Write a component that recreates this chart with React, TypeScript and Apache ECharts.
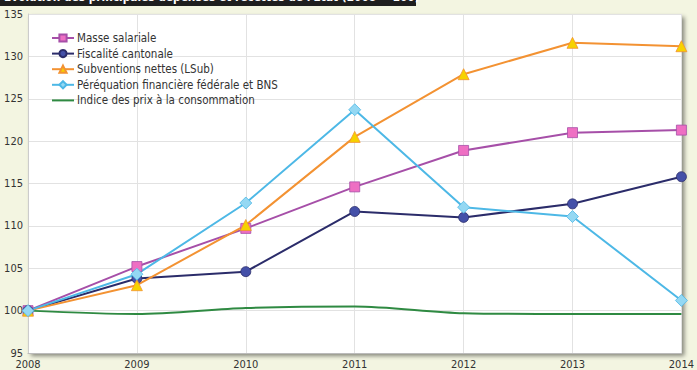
import React, { useEffect, useRef } from "react";
import * as echarts from "echarts";

const years = ["2008", "2009", "2010", "2011", "2012", "2013", "2014"];
const masseSalariale = [100, 105.2, 109.7, 114.6, 118.9, 121.0, 121.3];
const fiscaliteCantonale = [100, 103.8, 104.6, 111.7, 111.0, 112.6, 115.8];
const subventionsNettes = [100, 103.0, 110.1, 120.5, 127.9, 131.6, 131.2];
const perequation = [100, 104.3, 112.7, 123.7, 112.2, 111.1, 101.2];
const indicePrix = [100, 99.6, 100.3, 100.5, 99.7, 99.6, 99.6];

const FONT = "'Liberation Sans Narrow', 'DejaVu Sans Condensed', 'Arial Narrow', sans-serif";

export default function App() {
  const ref = useRef<HTMLDivElement>(null);
  useEffect(() => {
    if (!ref.current) return;
    const chart = echarts.init(ref.current, null, { renderer: "svg" });
    const mk = (name: string, data: number[], line: string, marker: string, symbol: string, size: number) => ({
      name,
      type: "line",
      data,
      symbol,
      symbolSize: size,
      lineStyle: { color: line, width: 2 },
      itemStyle: { color: marker, borderColor: line, borderWidth: 0.8 },
      z: 3,
    });
    chart.setOption({
      animation: false,
      backgroundColor: "#f3f5e1",
      graphic: [
        { type: "rect", left: 0, top: 0, shape: { width: 416, height: 6 }, style: { fill: "#1e1e1e" } },
        {
          type: "text",
          left: 4,
          top: -9,
          style: {
            text: "Evolution des principales dépenses et recettes de l'Etat (2008 = 100)",
            fill: "#ffffff",
            font: "bold 11.8px " + FONT,
          },
        },
      ],
      grid: {
        left: 28,
        right: 5,
        top: 14,
        bottom: 17,
        show: true,
        backgroundColor: "#ffffff",
        borderWidth: 0,
        shadowColor: "rgba(0,0,0,0.45)",
        shadowBlur: 4,
        shadowOffsetX: 3,
        shadowOffsetY: 3,
      },
      legend: {
        left: 51,
        top: 32,
        padding: 0,
        orient: "vertical",
        itemWidth: 22,
        itemHeight: 9,
        itemGap: 3.6,
        textStyle: { fontFamily: FONT, fontSize: 11.5, color: "#333", padding: [0, 0, 0, -2] },
        data: [
          "Masse salariale",
          "Fiscalité cantonale",
          "Subventions nettes (LSub)",
          "Péréquation financière fédérale et BNS",
          "Indice des prix à la consommation",
        ],
      },
      xAxis: {
        type: "category",
        data: years,
        boundaryGap: false,
        axisLine: { lineStyle: { color: "#bbb", width: 1 } },
        axisTick: { show: false },
        axisLabel: { fontFamily: FONT, fontSize: 11, color: "#333", margin: 6, showMaxLabel: true },
        splitLine: { show: true, lineStyle: { color: "#e2e2e2", width: 1 } },
      },
      yAxis: {
        type: "value",
        min: 95,
        max: 135,
        interval: 5,
        axisLine: { show: true, lineStyle: { color: "#ccc", width: 1 } },
        axisTick: { show: false },
        axisLabel: { fontFamily: FONT, fontSize: 11, color: "#333", margin: 5 },
        splitLine: { show: true, lineStyle: { color: "#e2e2e2", width: 1 } },
      },
      series: [
        mk("Masse salariale", masseSalariale, "#a64fa8", "#ee6fc3", "rect", 10),
        mk("Fiscalité cantonale", fiscaliteCantonale, "#2b2c6a", "#4450a8", "circle", 10),
        mk("Subventions nettes (LSub)", subventionsNettes, "#f39232", "#f6d200", "triangle", 11),
        mk("Péréquation financière fédérale et BNS", perequation, "#4db8e6", "#94d8f3", "diamond", 12),
        {
          name: "Indice des prix à la consommation",
          type: "line",
          data: indicePrix,
          symbol: "none",
          smooth: 0.3,
          lineStyle: { color: "#2f8a42", width: 2 },
          itemStyle: { color: "rgba(0,0,0,0)", borderWidth: 0 },
          z: 2,
        },
      ],
    });
    return () => chart.dispose();
  }, []);
  return <div ref={ref} style={{ position: "fixed", left: 0, top: 0, width: 697, height: 370 }} />;
}
